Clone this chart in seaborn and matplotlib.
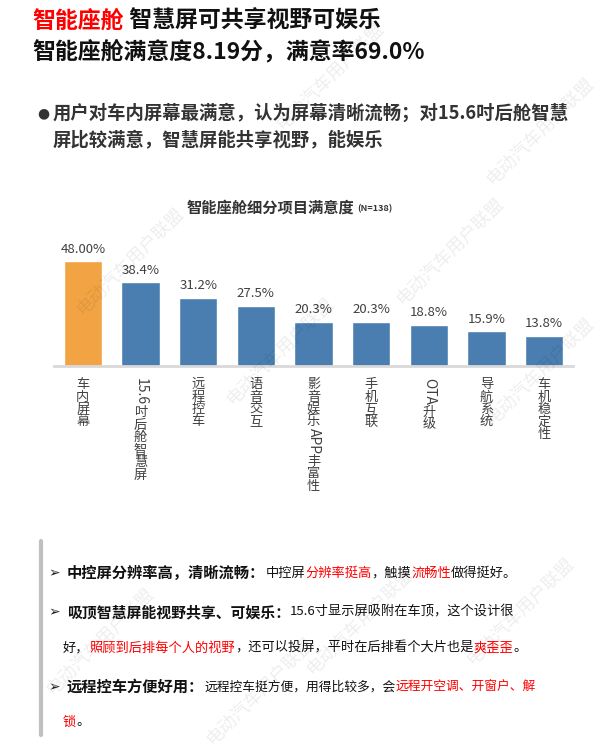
import re
import matplotlib
matplotlib.use("Agg")
import matplotlib.pyplot as plt
from matplotlib.transforms import offset_copy
import seaborn as sns

# data
categories = ["车内屏幕", "15.6吋后舱智慧屏", "远程控车", "语音交互", "影音娱乐APP丰富性",
              "手机互联", "OTA升级", "导航系统", "车机稳定性"]
values = [48.00, 38.4, 31.2, 27.5, 20.3, 20.3, 18.8, 15.9, 13.8]
value_labels = ["48.00%", "38.4%", "31.2%", "27.5%", "20.3%", "20.3%", "18.8%", "15.9%", "13.8%"]
bar_colors = ["#F2A444"] + ["#4A7EB0"] * 8

W, H = 615, 747
FAM = ["Noto Sans CJK SC", "DejaVu Sans"]

sns.set_theme(style="white")
plt.rcParams["font.family"] = FAM

fig = plt.figure(figsize=(W / 100, H / 100), dpi=100)
fig.patch.set_facecolor("white")
rend = fig.canvas.get_renderer()


def fx(x):
    return x / W


def fy(y):
    return 1 - y / H


def runs(x, y, parts, size=11):
    # parts: (text, color, weight, style)
    for s, color, weight, style in parts:
        t = fig.text(fx(x), fy(y), s, color=color, fontweight=weight, fontstyle=style,
                     fontsize=size, va="center", ha="left", family=FAM)
        x += t.get_window_extent(rend).width
    return x


# watermarks (behind everything else)
for (x, y) in [(330, 75), (130, 260), (280, 350), (450, 250), (540, 130),
               (100, 640), (520, 610), (360, 620), (540, 370), (260, 690)]:
    fig.text(fx(x), fy(y), "电动汽车用户联盟", rotation=45, ha="center", va="center",
             fontsize=13, color="#000000", alpha=0.07, family=FAM, zorder=10)

# header
runs(32, 21, [("智能座舱", "#FF0000", "bold", "normal"),
              (" 智慧屏可共享视野可娱乐", "#111111", "bold", "normal")], size=16.5)
runs(32, 52, [("智能座舱满意度8.19分，满意率69.0%", "#111111", "bold", "normal")], size=16.5)

fig.text(fx(37), fy(113), "●", fontsize=10, color="#333333", va="center", ha="left",
         family=["DejaVu Sans"])
runs(53, 113, [("用户对车内屏幕最满意，认为屏幕清晰流畅；对15.6吋后舱智慧", "#333333", "bold", "normal")], size=13.2)
runs(53, 140, [("屏比较满意，智慧屏能共享视野，能娱乐", "#333333", "bold", "normal")], size=13.2)

# chart
ax = fig.add_axes([fx(54), fy(366), (573 - 54) / W, 131 / H])
sns.barplot(x=categories, y=values, hue=categories, palette=bar_colors, legend=False,
            width=0.66, saturation=1, ax=ax)
ax.set_xlim(-0.5, len(categories) - 0.5)
ax.set_ylim(0, 60)
ax.set_xlabel("")
ax.set_ylabel("")
ax.set_yticks([])
ax.set_xticks(range(len(categories)))
ax.set_xticklabels([])
ax.tick_params(axis="x", length=0)
for sp in ["top", "left", "right"]:
    ax.spines[sp].set_visible(False)
ax.spines["bottom"].set_color("#D9D9D9")
ax.spines["bottom"].set_linewidth(2)
ax.set_facecolor("none")

for i, (v, lab) in enumerate(zip(values, value_labels)):
    ax.annotate(lab, (i, v), xytext=(0, 4), textcoords="offset points", ha="center",
                va="bottom", fontsize=9.5, color="#404040", family=FAM)

# vertical category labels: CJK upright, latin runs rotated
base = ax.get_xaxis_transform()
for i, lab in enumerate(categories):
    dy = 12
    for tok in re.findall(r"[A-Za-z0-9.]+|.", lab):
        tr = offset_copy(base, fig=fig, x=0, y=-dy, units="dots")
        if re.match(r"[A-Za-z0-9.]", tok):
            t = ax.text(i, 0, tok, transform=tr, rotation=-90, ha="center", va="top",
                        fontsize=10, color="#404040", family=FAM)
            dy += t.get_window_extent(rend).height + 1
        else:
            ax.text(i, 0, tok, transform=tr, ha="center", va="top",
                    fontsize=9.5, color="#404040", family=FAM)
            dy += 12.5

x_end = runs(187, 208, [("智能座舱细分项目满意度", "#333333", "bold", "normal")], size=11)
runs(x_end + 3, 209, [("(N=138)", "#333333", "bold", "normal")], size=6.5)

# bottom notes
fig.add_artist(plt.Line2D([fx(41), fx(41)], [fy(541), fy(735)], color="#C0C0C0", lw=3))
arrow_kw = dict(fontsize=10, color="#222222", va="center", ha="left", family=["DejaVu Sans"])
for y in [573, 612, 687]:
    fig.text(fx(48), fy(y), "➢", **arrow_kw)

x1 = runs(67, 573, [("中控屏分辨率高，清晰流畅：", "#111111", "bold", "normal")], size=11)
runs(max(x1, 260), 573, [("中控屏", "#111111", "normal", "italic"),
                         ("分辨率挺高", "#FF0000", "normal", "italic"),
                         ("，触摸", "#111111", "normal", "italic"),
                         ("流畅性", "#FF0000", "normal", "italic"),
                         ("做得挺好。", "#111111", "normal", "italic")], size=9.5)

x2 = runs(67, 612, [("吸顶智慧屏能视野共享、可娱乐：", "#111111", "bold", "normal")], size=10.7)
runs(x2, 612, [("15.6寸显示屏吸附在车顶，这个设计很", "#111111", "normal", "italic")], size=9.5)
runs(63, 648, [("好，", "#111111", "normal", "italic"),
               ("照顾到后排每个人的视野", "#FF0000", "normal", "italic"),
               ("，还可以投屏，平时在后排看个大片也是", "#111111", "normal", "italic"),
               ("爽歪歪", "#FF0000", "normal", "italic"),
               ("。", "#111111", "normal", "italic")], size=9.5)

x3 = runs(67, 687, [("远程控车方便好用：", "#111111", "bold", "normal")], size=11)
runs(x3, 687, [("远程控车挺方便，用得比较多，会", "#111111", "normal", "italic"),
               ("远程开空调、开窗户、解", "#FF0000", "normal", "italic")], size=9.2)
runs(63, 722, [("锁", "#FF0000", "normal", "italic"),
               ("。", "#111111", "normal", "italic")], size=9.5)

fig.savefig("out.png", dpi=100)
